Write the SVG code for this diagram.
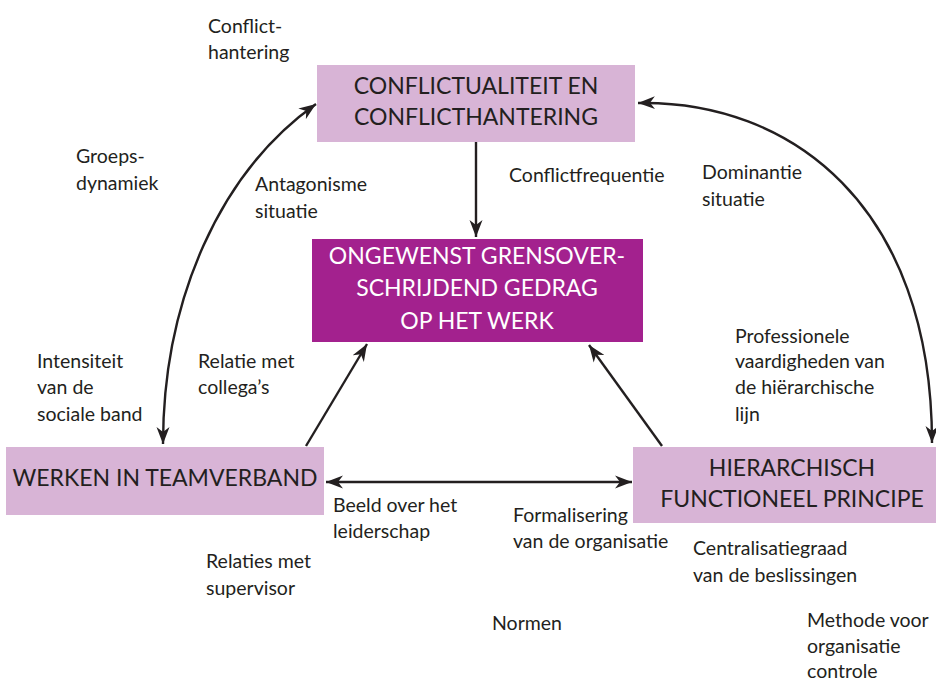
<svg xmlns="http://www.w3.org/2000/svg" width="936" height="682" viewBox="0 0 936 682">
  <style>
    .box-light { fill: #d8b4d6; }
    .box-dark { fill: #a3218e; }
    .node-text { font-family: Lato, "Liberation Sans", sans-serif; font-size: 23px; fill: #231f20; text-anchor: middle; }
    .node-text.inv { fill: #ffffff; }
    .label { font-family: Lato, "Liberation Sans", sans-serif; font-size: 19.5px; fill: #231f20; }
    .conn { fill: none; stroke: #231f20; stroke-width: 2.4; }
  </style>
  <defs>
    <marker id="arrow" viewBox="-17 -7 18 14" refX="0" refY="0" markerWidth="18" markerHeight="14" markerUnits="userSpaceOnUse" orient="auto-start-reverse">
      <path d="M0,0 L-17,-6.5 L-12,0 L-17,6.5 Z" fill="#231f20"/>
    </marker>
  </defs>

  <rect width="936" height="682" fill="#ffffff"/>

  <!-- connectors -->
  <g id="connectors">
    <line class="conn" x1="476" y1="142" x2="476" y2="237" marker-end="url(#arrow)"/>
    <path class="conn" d="M163,444 C163,300 220,172 316,104" marker-start="url(#arrow)" marker-end="url(#arrow)"/>
    <path class="conn" d="M638,103 C790,100 932,205 932,443" marker-start="url(#arrow)" marker-end="url(#arrow)"/>
    <line class="conn" x1="306" y1="446" x2="367" y2="344" marker-end="url(#arrow)"/>
    <line class="conn" x1="662" y1="446" x2="589" y2="345" marker-end="url(#arrow)"/>
    <line class="conn" x1="326" y1="482" x2="632" y2="482" marker-start="url(#arrow)" marker-end="url(#arrow)"/>
  </g>

  <!-- nodes -->
  <g id="node-conflict">
    <rect class="box-light" x="317" y="65" width="318" height="77"/>
    <text class="node-text" x="476" y="94">CONFLICTUALITEIT EN</text>
    <text class="node-text" x="476" y="125">CONFLICTHANTERING</text>
  </g>

  <g id="node-gedrag">
    <rect class="box-dark" x="312" y="239" width="331" height="103"/>
    <text class="node-text inv" x="477" y="264">ONGEWENST GRENSOVER-</text>
    <text class="node-text inv" x="477" y="296">SCHRIJDEND GEDRAG</text>
    <text class="node-text inv" x="477" y="329">OP HET WERK</text>
  </g>

  <g id="node-team">
    <rect class="box-light" x="6" y="447" width="318" height="68"/>
    <text class="node-text" x="165" y="486">WERKEN IN TEAMVERBAND</text>
  </g>

  <g id="node-hierarchisch">
    <rect class="box-light" x="633" y="447" width="303" height="76"/>
    <text class="node-text" x="792" y="476">HIERARCHISCH</text>
    <text class="node-text" x="792" y="507">FUNCTIONEEL PRINCIPE</text>
  </g>

  <!-- labels -->
  <g id="labels">
    <text class="label" x="208" y="33">Conflict-</text>
    <text class="label" x="208" y="59">hantering</text>

    <text class="label" x="76" y="163">Groeps-</text>
    <text class="label" x="76" y="190">dynamiek</text>

    <text class="label" x="255" y="191">Antagonisme</text>
    <text class="label" x="255" y="218">situatie</text>

    <text class="label" x="509" y="182">Conflictfrequentie</text>

    <text class="label" x="702" y="179">Dominantie</text>
    <text class="label" x="702" y="206">situatie</text>

    <text class="label" x="37" y="368">Intensiteit</text>
    <text class="label" x="37" y="394">van de</text>
    <text class="label" x="37" y="421">sociale band</text>

    <text class="label" x="198" y="368">Relatie met</text>
    <text class="label" x="198" y="394">collega’s</text>

    <text class="label" x="735" y="343">Professionele</text>
    <text class="label" x="735" y="368">vaardigheden van</text>
    <text class="label" x="735" y="394">de hiërarchische</text>
    <text class="label" x="735" y="421">lijn</text>

    <text class="label" x="333" y="512">Beeld over het</text>
    <text class="label" x="333" y="538">leiderschap</text>

    <text class="label" x="513" y="522">Formalisering</text>
    <text class="label" x="513" y="548">van de organisatie</text>

    <text class="label" x="206" y="568">Relaties met</text>
    <text class="label" x="206" y="595">supervisor</text>

    <text class="label" x="693" y="555">Centralisatiegraad</text>
    <text class="label" x="693" y="582">van de beslissingen</text>

    <text class="label" x="492" y="630">Normen</text>

    <text class="label" x="807" y="627">Methode voor</text>
    <text class="label" x="807" y="653">organisatie</text>
    <text class="label" x="807" y="678">controle</text>
  </g>
</svg>
